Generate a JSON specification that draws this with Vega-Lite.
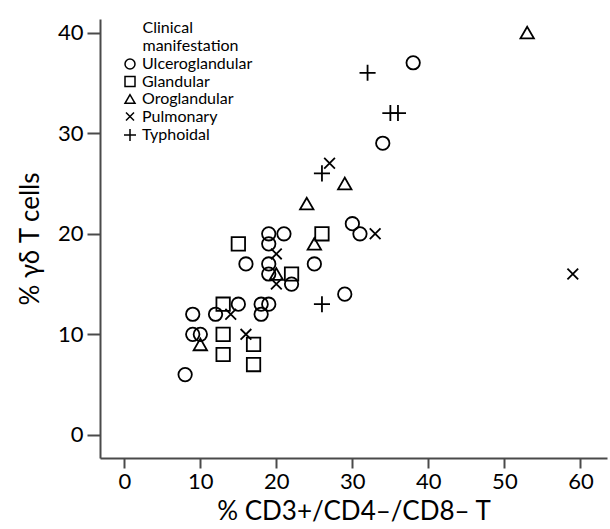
{
  "$schema": "https://vega.github.io/schema/vega-lite/v6.json",
  "width": 507,
  "height": 439,
  "autosize": "none",
  "padding": {"left": 100, "top": 19, "right": 3, "bottom": 71},
  "background": "white",
  "config": {
    "font": "Lato",
    "view": {"stroke": null},
    "axis": {"grid": false, "domainColor": "#4a4a4a", "domainWidth": 2, "tickColor": "#4a4a4a", "tickWidth": 2, "labelColor": "black", "labelFontSize": 22, "labelFont": "Lato", "titleFont": "Lato", "titleFontSize": 26, "titleFontWeight": "normal", "titleColor": "black"}
  },
  "data": {"values": [
    {"cd3": 38, "gd": 37, "manifestation": "Ulceroglandular"},
    {"cd3": 34, "gd": 29, "manifestation": "Ulceroglandular"},
    {"cd3": 30, "gd": 21, "manifestation": "Ulceroglandular"},
    {"cd3": 31, "gd": 20, "manifestation": "Ulceroglandular"},
    {"cd3": 19, "gd": 20, "manifestation": "Ulceroglandular"},
    {"cd3": 21, "gd": 20, "manifestation": "Ulceroglandular"},
    {"cd3": 19, "gd": 19, "manifestation": "Ulceroglandular"},
    {"cd3": 16, "gd": 17, "manifestation": "Ulceroglandular"},
    {"cd3": 19, "gd": 17, "manifestation": "Ulceroglandular"},
    {"cd3": 25, "gd": 17, "manifestation": "Ulceroglandular"},
    {"cd3": 19, "gd": 16, "manifestation": "Ulceroglandular"},
    {"cd3": 22, "gd": 15, "manifestation": "Ulceroglandular"},
    {"cd3": 29, "gd": 14, "manifestation": "Ulceroglandular"},
    {"cd3": 15, "gd": 13, "manifestation": "Ulceroglandular"},
    {"cd3": 18, "gd": 13, "manifestation": "Ulceroglandular"},
    {"cd3": 19, "gd": 13, "manifestation": "Ulceroglandular"},
    {"cd3": 9, "gd": 12, "manifestation": "Ulceroglandular"},
    {"cd3": 12, "gd": 12, "manifestation": "Ulceroglandular"},
    {"cd3": 18, "gd": 12, "manifestation": "Ulceroglandular"},
    {"cd3": 9, "gd": 10, "manifestation": "Ulceroglandular"},
    {"cd3": 10, "gd": 10, "manifestation": "Ulceroglandular"},
    {"cd3": 8, "gd": 6, "manifestation": "Ulceroglandular"},
    {"cd3": 26, "gd": 20, "manifestation": "Glandular"},
    {"cd3": 15, "gd": 19, "manifestation": "Glandular"},
    {"cd3": 22, "gd": 16, "manifestation": "Glandular"},
    {"cd3": 13, "gd": 13, "manifestation": "Glandular"},
    {"cd3": 13, "gd": 10, "manifestation": "Glandular"},
    {"cd3": 13, "gd": 8, "manifestation": "Glandular"},
    {"cd3": 17, "gd": 9, "manifestation": "Glandular"},
    {"cd3": 17, "gd": 7, "manifestation": "Glandular"},
    {"cd3": 53, "gd": 40, "manifestation": "Oroglandular"},
    {"cd3": 29, "gd": 25, "manifestation": "Oroglandular"},
    {"cd3": 24, "gd": 23, "manifestation": "Oroglandular"},
    {"cd3": 25, "gd": 19, "manifestation": "Oroglandular"},
    {"cd3": 20, "gd": 16, "manifestation": "Oroglandular"},
    {"cd3": 10, "gd": 9, "manifestation": "Oroglandular"},
    {"cd3": 27, "gd": 27, "manifestation": "Pulmonary"},
    {"cd3": 33, "gd": 20, "manifestation": "Pulmonary"},
    {"cd3": 20, "gd": 18, "manifestation": "Pulmonary"},
    {"cd3": 20, "gd": 15, "manifestation": "Pulmonary"},
    {"cd3": 14, "gd": 12, "manifestation": "Pulmonary"},
    {"cd3": 16, "gd": 10, "manifestation": "Pulmonary"},
    {"cd3": 59, "gd": 16, "manifestation": "Pulmonary"},
    {"cd3": 32, "gd": 36, "manifestation": "Typhoidal"},
    {"cd3": 35, "gd": 32, "manifestation": "Typhoidal"},
    {"cd3": 36, "gd": 32, "manifestation": "Typhoidal"},
    {"cd3": 26, "gd": 26, "manifestation": "Typhoidal"},
    {"cd3": 26, "gd": 13, "manifestation": "Typhoidal"}
  ]},
  "mark": {"type": "point", "filled": false, "color": "black", "strokeWidth": 1.8, "size": 180, "opacity": 1},
  "encoding": {
    "x": {"field": "cd3", "type": "quantitative", "title": "% CD3+/CD4–/CD8– T",
      "scale": {"domain": [-3.2, 63.5], "nice": false, "zero": false},
      "axis": {"values": [0, 10, 20, 30, 40, 50, 60], "tickSize": 10, "labelPadding": 3, "titlePadding": 6}},
    "y": {"field": "gd", "type": "quantitative", "title": "% γδ T cells",
      "scale": {"domain": [-2.29, 41.35], "nice": false, "zero": false},
      "axis": {"values": [0, 10, 20, 30, 40], "tickSize": 13, "labelPadding": 4, "titlePadding": 14}},
    "shape": {"field": "manifestation", "type": "nominal",
      "scale": {"domain": ["Ulceroglandular", "Glandular", "Oroglandular", "Pulmonary", "Typhoidal"],
        "range": ["circle", "square", "triangle-up", "M-0.8,-0.8L0.8,0.8M-0.8,0.8L0.8,-0.8", "M-1.2,0L1.2,0M0,-1.2L0,1.2"]},
      "legend": {"title": ["\u200b\u00a0\u00a0\u00a0\u00a0\u00a0Clinical", "\u200b\u00a0\u00a0\u00a0\u00a0\u00a0manifestation"], "orient": "none", "legendX": 22, "legendY": 1,
        "titleFontSize": 16, "titleFontWeight": "normal", "titleColor": "black", "titleFont": "Lato", "titleLineHeight": 18, "titlePadding": 2,
        "labelFontSize": 16, "labelColor": "black", "labelFont": "Lato", "labelOffset": 4, "rowPadding": 1.5,
        "symbolSize": 100, "symbolStrokeColor": "black", "symbolFillColor": "transparent", "symbolStrokeWidth": 1.5, "symbolOpacity": 1}}
  }
}
